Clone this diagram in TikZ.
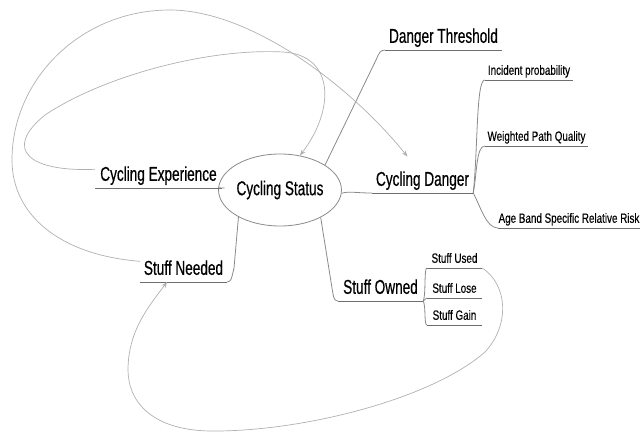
\documentclass[tikz,border=0pt]{standalone}
\usepackage{fontspec}
\newfontfamily\bigfont[FakeStretch=0.68,FakeBold=0.5]{Liberation Sans}
\newfontfamily\smallfont[FakeStretch=0.73,FakeBold=0.3]{Liberation Sans}
\usetikzlibrary{arrows.meta,shapes.geometric}
\definecolor{branchgray}{HTML}{8A8A8A}
\definecolor{linegray}{HTML}{6E6E6E}
\definecolor{linkgray}{HTML}{B0B0B0}
\begin{document}
\begin{tikzpicture}[x=1pt,y=-1pt,
  bigtopic/.style={anchor=south, inner xsep=0pt, inner ysep=7pt, text height=15pt, text depth=0pt, font=\bigfont\fontsize{20}{22}\selectfont},
  smalltopic/.style={anchor=south, inner xsep=0pt, inner ysep=5pt, text height=10pt, text depth=0pt, font=\smallfont\fontsize{13.5}{15}\selectfont},
  centraltopic/.style={draw=branchgray, line width=0.8pt, ellipse, minimum width=104pt, minimum height=72pt, inner sep=0pt, font=\bigfont\fontsize{20}{22}\selectfont},
  uline/.style={draw=linegray, line width=0.9pt},
  branch/.style={draw=branchgray, line width=0.8pt},
  link/.style={draw=linkgray, line width=0.7pt, -{Stealth[length=6pt,width=4.5pt]}},
]
\useasboundingbox (0,0) rectangle (640,432);

% central topic
\node[centraltopic] (status) at (280,190) {Cycling Status};

% main topics
\node[bigtopic, minimum width=127pt] (exp) at (158.5,188) {Cycling Experience};
\node[bigtopic, minimum width=87pt] (need) at (183.5,282) {Stuff Needed};
\node[bigtopic, minimum width=85pt] (owned) at (380.5,301) {Stuff Owned};
\node[bigtopic, minimum width=101pt] (danger) at (422.5,193) {Cycling Danger};
\node[bigtopic, minimum width=117pt] (thresh) at (443.5,50) {Danger Threshold};

% sub topics
\node[smalltopic, minimum width=88pt] (inc) at (529,80) {Incident probability};
\node[smalltopic, minimum width=103pt] (wpq) at (536.5,146) {Weighted Path Quality};
\node[smalltopic, minimum width=142pt] (age) at (569,228) {Age Band Specific Relative Risk};
\node[smalltopic, minimum width=55pt] (used) at (454.5,268) {Stuff Used};
\node[smalltopic, minimum width=55pt] (lose) at (454.5,298) {Stuff Lose};
\node[smalltopic, minimum width=55pt] (gain) at (454.5,325) {Stuff Gain};

% underlines
\foreach \n in {exp,need,owned,danger,thresh,inc,wpq,age,used,lose,gain}
  \draw[uline] (\n.south west) -- (\n.south east);

% branches
\draw[branch] (exp.south east) .. controls (226,188) .. (status.178);
\draw[branch] (status.-3) .. controls (350,191) and (355,193) .. (danger.south west);
\draw[branch] (status.29) -- (376,60) .. controls (380,51) .. (thresh.south west);
\draw[branch] (status.213) -- (234,268) .. controls (231,281) .. (need.south east);
\draw[branch] (status.-34) -- (332,288) .. controls (334,300) .. (owned.south west);

\draw[branch] (danger.south east) .. controls (478,150) and (476,80) .. (inc.south west);
\draw[branch] (danger.south east) .. controls (477,175) and (476,146) .. (wpq.south west);
\draw[branch] (danger.south east) .. controls (480,205) and (486,228) .. (age.south west);

\draw[branch] (owned.south east) .. controls (426,296) and (424,268) .. (used.south west);
\draw[branch] (owned.south east) .. controls (425,300) .. (lose.south west);
\draw[branch] (owned.south east) .. controls (426,306) and (424,325) .. (gain.south west);

% cross links
\draw[link] ([yshift=6pt]need.west) .. controls (60,255) and (12,215) .. (12,160)
  .. controls (12,80) and (80,10) .. (170,10)
  .. controls (250,10) and (350,85) .. ([xshift=-15pt,yshift=7pt]danger.north);
\draw[link] ([yshift=4pt]exp.west) .. controls (30,172) and (2,150) .. (45,115)
  .. controls (105,75) and (210,48) .. (283,52)
  .. controls (335,55) and (335,110) .. (status.60);
\draw[link] (used.south east) .. controls (508,285) and (510,325) .. (485,352)
  .. controls (430,400) and (300,432) .. (210,431)
  .. controls (150,430) and (128,400) .. (128,370)
  .. controls (128,330) and (150,305) .. ([xshift=-16.5pt]need.south);
\end{tikzpicture}
\end{document}
